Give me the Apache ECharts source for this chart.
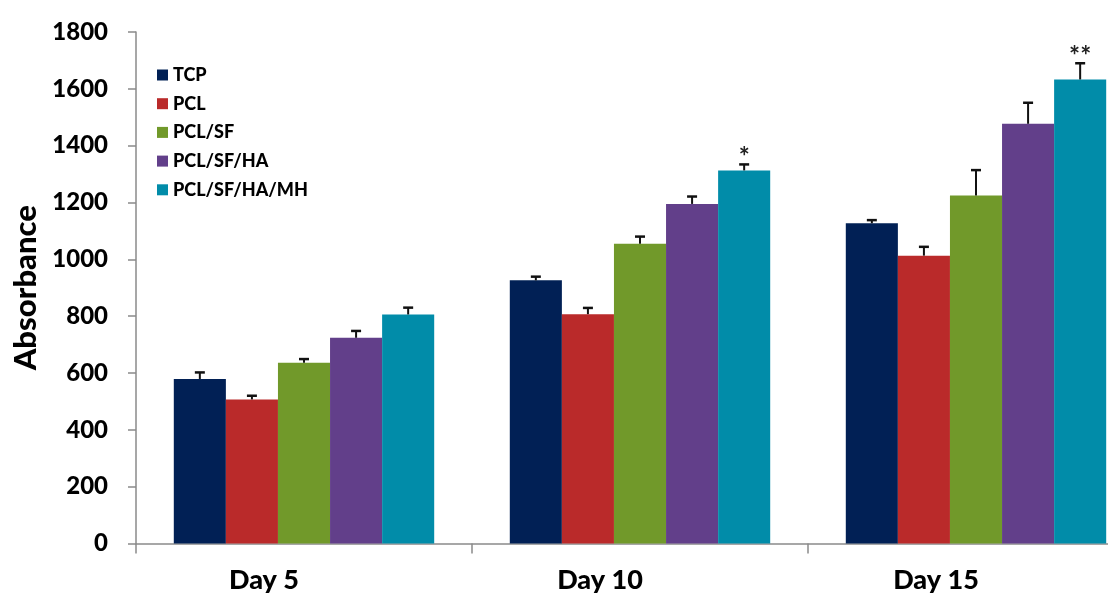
<!DOCTYPE html>
<html>
<head>
<meta charset="utf-8">
<script src="https://cdn.jsdelivr.net/npm/echarts@6/dist/echarts.min.js"></script>
<style>
html,body{margin:0;padding:0;background:#fff;}
#chart{width:1108px;height:597px;}
</style>
</head>
<body>
<div id="chart"></div>
<script>
var categories = ['Day 5', 'Day 10', 'Day 15'];
var seriesNames = ['TCP', 'PCL', 'PCL/SF', 'PCL/SF/HA', 'PCL/SF/HA/MH'];
var tcp = [579, 926, 1127];
var tcpErr = [23, 13, 11];
var pcl = [507, 807, 1013];
var pclErr = [13, 22, 31];
var pclSf = [636, 1055, 1225];
var pclSfErr = [13, 25, 89];
var pclSfHa = [724, 1195, 1477];
var pclSfHaErr = [24, 26, 74];
var pclSfHaMh = [806, 1313, 1633];
var pclSfHaMhErr = [24, 21, 57];
var significance = ['', '*', '**'];
var yTicks = [0, 200, 400, 600, 800, 1000, 1200, 1400, 1600, 1800];

var colors = ['#012055', '#BA2A2A', '#71992A', '#623F8A', '#018CA9'];
var values = [tcp, pcl, pclSf, pclSfHa, pclSfHaMh];
var errors = [tcpErr, pclErr, pclSfErr, pclSfHaErr, pclSfHaMhErr];
var FONT = 'Lato';
var W = 900;
var BAR_FRAC = 0.155;

var errData = [];
for (var s = 0; s < values.length; s++) {
  for (var c = 0; c < categories.length; c++) {
    errData.push([c, s, values[s][c], errors[s][c], s === values.length - 1 ? significance[c] : '']);
  }
}

var barSeries = seriesNames.map(function (n, i) {
  return {
    name: n,
    type: 'bar',
    data: values[i],
    barWidth: (BAR_FRAC * 100) + '%',
    barGap: '0%',
    itemStyle: { color: colors[i] },
    silent: true
  };
});

var errSeries = {
  type: 'custom',
  z: 10,
  silent: true,
  data: errData,
  clip: false,
  renderItem: function (params, api) {
    var c = api.value(0), s = api.value(1), v = api.value(2), e = api.value(3);
    var sig = errData[params.dataIndex][4];
    var band = api.size([1, 0])[0];
    var bw = band * BAR_FRAC;
    var base = api.coord([c, v]);
    var top = api.coord([c, v + e]);
    var x = base[0] + (s - 2) * bw;
    var children = [
      { type: 'line', shape: { x1: x, y1: base[1], x2: x, y2: top[1] }, style: { stroke: '#111', lineWidth: 2 } },
      { type: 'line', shape: { x1: x - 5, y1: top[1], x2: x + 5, y2: top[1] }, style: { stroke: '#111', lineWidth: 2.5 } }
    ];
    if (sig) {
      children.push({ type: 'text', style: { text: sig, x: x, y: top[1] + 6, textAlign: 'center', textVerticalAlign: 'bottom', fontSize: 26, fontWeight: 'bold', fontFamily: FONT, fill: '#222' } });
    }
    return { type: 'group', children: children };
  }
};

var chart = echarts.init(document.getElementById('chart'));
chart.setOption({
  animation: false,
  backgroundColor: '#fff',
  grid: { left: 136, top: 32, width: 1008, height: 511.5, containLabel: false, outerBoundsMode: 'none' },
  legend: {
    data: seriesNames,
    orient: 'vertical',
    left: 152,
    top: 61,
    itemWidth: 11,
    itemHeight: 11,
    itemGap: 10.7,
    icon: 'rect',
    textStyle: { fontSize: 18, lineHeight: 18, fontWeight: W, fontFamily: FONT, color: '#000' }
  },
  xAxis: {
    type: 'category',
    data: categories,
    axisLine: { lineStyle: { color: '#8a8a8a', width: 1.5 } },
    axisTick: { show: true, length: 10, lineStyle: { color: '#8a8a8a', width: 1.5 } },
    axisLabel: { fontSize: 27, fontWeight: W, fontFamily: FONT, color: '#000', margin: 23, padding: [0, 80, 0, 0] }
  },
  yAxis: {
    type: 'value',
    min: yTicks[0],
    max: yTicks[yTicks.length - 1],
    interval: 200,
    name: 'Absorbance',
    nameLocation: 'middle',
    nameRotate: 90,
    nameGap: 93,
    nameTextStyle: { fontSize: 31, fontWeight: W, fontFamily: FONT, color: '#000' },
    splitLine: { show: false },
    axisLine: { show: true, lineStyle: { color: '#8a8a8a', width: 1.5 } },
    axisTick: { show: true, length: 8, lineStyle: { color: '#8a8a8a', width: 1.5 } },
    axisLabel: { fontSize: 24, fontWeight: W, fontFamily: FONT, color: '#000', margin: 28, formatter: function (v) { return String(v); } }
  },
  series: barSeries.concat([errSeries])
});
</script>
</body>
</html>
